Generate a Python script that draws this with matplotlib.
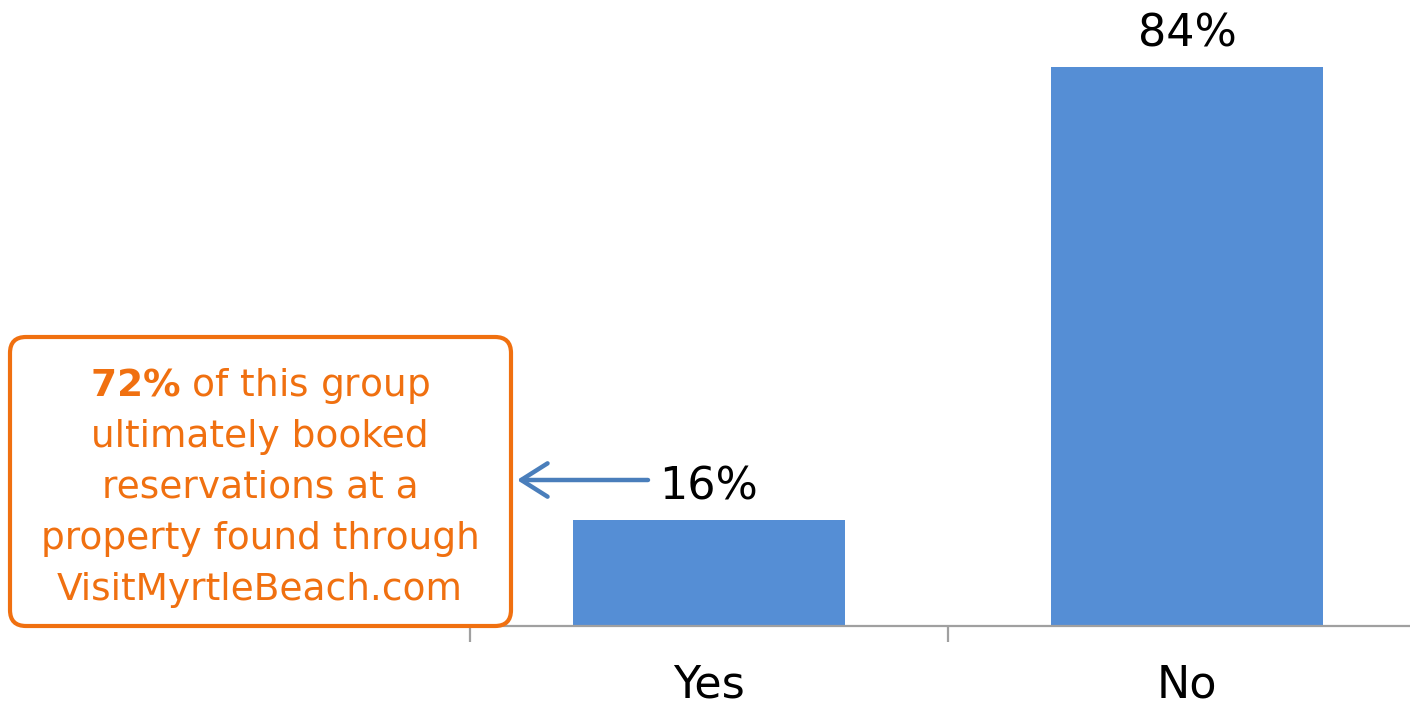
import matplotlib
matplotlib.use('Agg')
from matplotlib import pyplot as plt
from matplotlib.patches import FancyBboxPatch

plt.rcParams['font.family'] = ['DejaVu Sans']
plt.rcParams['mathtext.fontset'] = 'dejavusans'

# survey answers and share of respondents (%)
categories = ['Yes', 'No']
shares = [16, 84]

callout_value = '72%'
callout_lines = [' of this group',
                 'ultimately booked',
                 'reservations at a',
                 'property found through',
                 'VisitMyrtleBeach.com']

BAR_COLOR = '#558ED5'
AXIS_COLOR = '#A0A0A0'
ORANGE = '#F07010'
ARROW_COLOR = '#4A7EBB'

W, H, DPI = 1410, 709, 100
fig = plt.figure(figsize=(W / DPI, H / DPI), dpi=DPI)

# axes extends slightly beyond the right edge so the last category is cut
ax = fig.add_axes([470 / W, 83 / H, 956 / W, 599 / H])
x = list(range(len(categories)))
ax.bar(x, shares, width=0.57, color=BAR_COLOR, zorder=2)
ax.set_xlim(-0.5, len(categories) - 0.5)
ax.set_ylim(0, 90)

for side in ['left', 'right', 'top']:
    ax.spines[side].set_visible(False)
ax.spines['bottom'].set_color(AXIS_COLOR)
ax.spines['bottom'].set_linewidth(1.6)
ax.set_yticks([])

ax.set_xticks(x)
ax.set_xticklabels(categories, fontsize=32)
ax.tick_params(axis='x', which='major', length=0, pad=27)
ax.set_xticks([i - 0.5 for i in range(len(categories) + 1)], minor=True)
ax.tick_params(axis='x', which='minor', length=11.5, width=1.6,
               color=AXIS_COLOR)

for xi, v in zip(x, shares):
    ax.annotate(f'{v}%', xy=(xi, v), xytext=(0, 8),
                textcoords='offset points', ha='center', va='bottom',
                fontsize=32, color='black')

# callout box, laid out in inches from the figure's lower-left corner
px = 1.0 / DPI
box = FancyBboxPatch((10 * px, 83 * px), 501 * px, 289 * px,
                     boxstyle='round,pad=0,rounding_size=0.16',
                     transform=fig.dpi_scale_trans,
                     facecolor='white', edgecolor=ORANGE, linewidth=3,
                     zorder=5)
fig.add_artist(box)

first = r'$\bf{' + callout_value.replace('%', r'\%') + '}$' + callout_lines[0]
lines = [first] + callout_lines[1:]
for i, line in enumerate(lines):
    fig.text(260 / W, 1 - (396 + 51 * i) / H, line, ha='center',
             va='baseline', fontsize=27, color=ORANGE, zorder=6)

# arrow from the "Yes" label back to the callout
y_arrow = 1 - 480 / H
ax.annotate('', xy=(517 / W, y_arrow), xycoords='figure fraction',
            xytext=(648 / W, y_arrow), textcoords='figure fraction',
            arrowprops=dict(arrowstyle='->,head_length=0.95,head_width=0.6',
                            mutation_scale=20, lw=3.2, color=ARROW_COLOR,
                            capstyle='round', joinstyle='round',
                            shrinkA=0, shrinkB=0))

fig.savefig('out.png', dpi=DPI)
